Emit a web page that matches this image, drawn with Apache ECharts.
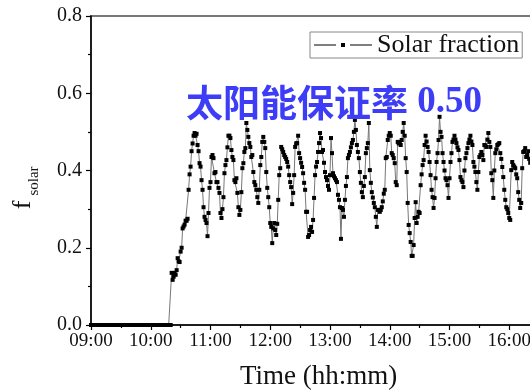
<!DOCTYPE html>
<html>
<head>
<meta charset="utf-8">
<script src="https://cdn.jsdelivr.net/npm/echarts@6/dist/echarts.min.js"></script>
<style>
  html, body { margin: 0; padding: 0; background: #fff; overflow: hidden; }
  /* the plot runs past the right edge of the picture, so the chart is wider than the window */
  #chart { width: 569px; height: 391px; }
</style>
</head>
<body>
<div id="chart"></div>
<script>
// time axis: minutes since 00:00
var xTicks = [540, 600, 660, 720, 780, 840, 900, 960, 1020]
var yTicks = [0, 0.2, 0.4, 0.6, 0.8]
var startMinute = 540 // 09:00, one reading per minute

// solar fraction readings (09:00 .. ~16:20)
var zeroPart = [
  0, 0, 0, 0, 0, 0, 0, 0, 0, 0, 0, 0, 0, 0, 0, 0, 0, 0, 0, 0, 0, 0, 0, 0, 0, 0, 0,
  0, 0, 0, 0, 0, 0, 0, 0, 0, 0, 0, 0, 0, 0, 0, 0, 0, 0, 0, 0, 0, 0, 0, 0, 0, 0, 0,
  0, 0, 0, 0, 0, 0, 0, 0, 0, 0, 0, 0, 0, 0, 0, 0, 0, 0, 0, 0, 0, 0, 0, 0, 0, 0, 0
]
var fSolar = [
  0.135, 0.117, 0.125, 0.135, 0.13, 0.142, 0.173, 0.165, 0.163, 0.19,
  0.2, 0.25, 0.255, 0.26, 0.27, 0.27, 0.275, 0.35, 0.39, 0.41,
  0.45, 0.47, 0.49, 0.497, 0.49, 0.495, 0.466, 0.45, 0.419, 0.41,
  0.375, 0.35, 0.305, 0.28, 0.272, 0.264, 0.23, 0.29, 0.355, 0.37,
  0.435, 0.44, 0.432, 0.393, 0.396, 0.37, 0.37, 0.355, 0.342, 0.29,
  0.277, 0.3, 0.331, 0.393, 0.414, 0.427, 0.46, 0.49, 0.49, 0.484,
  0.453, 0.435, 0.427, 0.375, 0.37, 0.38, 0.342, 0.305, 0.285, 0.298,
  0.344, 0.406, 0.419, 0.448, 0.458, 0.523, 0.505, 0.487, 0.471, 0.461,
  0.435, 0.44, 0.396, 0.37, 0.362, 0.35, 0.331, 0.316, 0.35, 0.414,
  0.435, 0.474, 0.487, 0.474, 0.458, 0.396, 0.355, 0.331, 0.305, 0.264,
  0.254, 0.212, 0.25, 0.264, 0.246, 0.233, 0.262, 0.324, 0.388, 0.406,
  0.461, 0.455, 0.448, 0.44, 0.435, 0.43, 0.422, 0.41, 0.388, 0.37,
  0.357, 0.313, 0.342, 0.388, 0.461, 0.47, 0.471, 0.49, 0.445, 0.432,
  0.42, 0.409, 0.393, 0.368, 0.35, 0.293, 0.293, 0.228, 0.233, 0.246,
  0.254, 0.241, 0.272, 0.329, 0.388, 0.41, 0.422, 0.448, 0.471, 0.497,
  0.484, 0.448, 0.453, 0.42, 0.396, 0.383, 0.375, 0.36, 0.35, 0.388,
  0.484, 0.445, 0.393, 0.385, 0.38, 0.375, 0.37, 0.337, 0.324, 0.305,
  0.223, 0.303, 0.298, 0.28, 0.324, 0.36, 0.383, 0.432, 0.44, 0.448,
  0.46, 0.471, 0.479, 0.5, 0.531, 0.505, 0.466, 0.448, 0.432, 0.396,
  0.368, 0.344, 0.331, 0.36, 0.383, 0.445, 0.458, 0.471, 0.523, 0.401,
  0.368, 0.344, 0.33, 0.316, 0.305, 0.28, 0.254, 0.298, 0.298, 0.293,
  0.298, 0.305, 0.32, 0.34, 0.35, 0.432, 0.435, 0.479, 0.49, 0.497,
  0.49, 0.445, 0.44, 0.432, 0.419, 0.37, 0.362, 0.474, 0.47, 0.474,
  0.466, 0.479, 0.5, 0.523, 0.49, 0.432, 0.396, 0.316, 0.259, 0.238,
  0.215, 0.179, 0.179, 0.207, 0.277, 0.318, 0.264, 0.28, 0.293, 0.29,
  0.362, 0.39, 0.414, 0.427, 0.466, 0.49, 0.475, 0.461, 0.448, 0.422,
  0.388, 0.35, 0.331, 0.303, 0.329, 0.38, 0.422, 0.445, 0.479, 0.539,
  0.5, 0.487, 0.445, 0.422, 0.4, 0.38, 0.375, 0.362, 0.329, 0.38,
  0.422, 0.445, 0.474, 0.48, 0.49, 0.48, 0.471, 0.46, 0.453, 0.427,
  0.383, 0.375, 0.37, 0.357, 0.4, 0.432, 0.445, 0.458, 0.471, 0.48,
  0.49, 0.475, 0.466, 0.422, 0.41, 0.396, 0.37, 0.35, 0.396, 0.435,
  0.44, 0.448, 0.44, 0.427, 0.466, 0.465, 0.461, 0.48, 0.497, 0.474,
  0.461, 0.393, 0.375, 0.329, 0.4, 0.445, 0.455, 0.466, 0.468, 0.471,
  0.445, 0.43, 0.409, 0.383, 0.35, 0.324, 0.305, 0.3, 0.29, 0.277,
  0.272, 0.401, 0.422, 0.414, 0.41, 0.406, 0.39, 0.38, 0.344, 0.324,
  0.303, 0.316, 0.406, 0.448, 0.45, 0.458, 0.435, 0.44, 0.45, 0.43, 0.42
]

var allValues = zeroPart.concat(fSolar)
var seriesData = allValues.map(function (v, i) {
  return [startMinute + i, v]
})

function hhmm(m) {
  var h = Math.floor(m / 60)
  var mm = m % 60
  return (h < 10 ? '0' + h : h) + ':' + (mm < 10 ? '0' + mm : mm)
}

var serif = '"Liberation Serif", "Times New Roman", serif'
var chart = echarts.init(document.getElementById('chart'))

var option = {
  animation: false,
  backgroundColor: '#fff',
  grid: {
    left: 91,
    top: 16,
    right: 0,
    bottom: 66,
    outerBoundsMode: 'none',
    show: true,
    borderColor: '#777',
    borderWidth: 2,
  },
  legend: {
    left: 310,
    top: 32,
    padding: [0, 3, 0, 4],
    borderColor: '#888',
    borderWidth: 1,
    itemWidth: 58,
    itemHeight: 6,
    itemGap: 4,
    // line - marker - line, with gaps, as in the original legend
    icon: 'path://M0,2.6H22V3.4H0Z M27,1H31V5H27Z M36,2.6H58V3.4H36Z',
    textStyle: { fontFamily: serif, fontSize: 26, color: '#111' },
    data: ['Solar fraction'],
  },
  xAxis: {
    type: 'value',
    min: xTicks[0],
    max: xTicks[xTicks.length - 1],
    interval: 60,
    splitLine: { show: false },
    axisLine: { lineStyle: { color: '#000', width: 1.5 } },
    axisTick: { length: 5, lineStyle: { color: '#000', width: 1.2 } },
    minorTick: { show: true, splitNumber: 2, length: 3, lineStyle: { color: '#000', width: 1.2 } },
    axisLabel: {
      margin: 7,
      fontFamily: serif,
      fontSize: 19,
      color: '#111',
      formatter: function (v) { return hhmm(v) },
    },
  },
  yAxis: {
    type: 'value',
    min: yTicks[0],
    max: yTicks[yTicks.length - 1],
    interval: 0.2,
    splitLine: { show: false },
    axisLine: { show: true, lineStyle: { color: '#000', width: 1.5 } },
    axisTick: { show: true, length: 5, lineStyle: { color: '#000', width: 1.2 } },
    minorTick: { show: true, splitNumber: 2, length: 3, lineStyle: { color: '#000', width: 1.2 } },
    axisLabel: {
      margin: 9,
      fontFamily: serif,
      fontSize: 20,
      color: '#111',
      formatter: function (v) { return v.toFixed(1) },
    },
  },
  graphic: [
    {
      type: 'text',
      left: 240,
      top: 363,
      style: { text: 'Time (hh:mm)', font: '27px ' + serif, fill: '#111' },
    },
    {
      type: 'text',
      x: 36,
      y: 205,
      rotation: Math.PI / 2,
      style: { text: 'f', font: '26px ' + serif, fill: '#111', textAlign: 'center', textVerticalAlign: 'bottom' },
    },
    {
      type: 'text',
      x: 42,
      y: 181,
      rotation: Math.PI / 2,
      style: { text: 'solar', font: '15px ' + serif, fill: '#111', textAlign: 'center', textVerticalAlign: 'bottom' },
    },
    {
      type: 'text',
      left: 186,
      top: 84,
      z: 100,
      style: {
        text: '{a|太阳能保证率}{b| 0.50}',
        rich: {
          a: { fontFamily: '"Noto Sans CJK SC", sans-serif', fontWeight: 'bold', fontSize: 37, fill: '#3d3df7', lineHeight: 44 },
          b: { fontFamily: serif, fontWeight: 'bold', fontSize: 37, fill: '#3d3df7', lineHeight: 44 },
        },
      },
    },
  ],
  series: [
    {
      name: 'Solar fraction',
      type: 'line',
      data: seriesData,
      symbol: 'rect',
      symbolSize: 4,
      showAllSymbol: true,
      lineStyle: { color: '#777', width: 1 },
      itemStyle: { color: '#000' },
    },
  ],
}

chart.setOption(option)
window.addEventListener('resize', chart.resize)
</script>
</body>
</html>
